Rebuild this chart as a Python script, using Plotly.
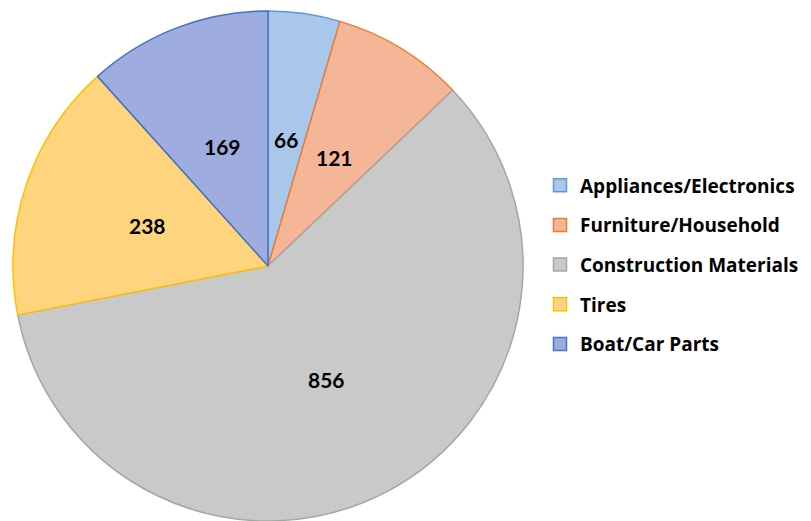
import numpy as np
import plotly.graph_objects as go

categories = ["Appliances/Electronics", "Furniture/Household", "Construction Materials", "Tires", "Boat/Car Parts"]
values = [66, 121, 856, 238, 169]
fill_colors = ["#a9c7ea", "#f5b698", "#c9c9c9", "#ffd47f", "#9eacdf"]
line_colors = ["#5b9bd5", "#ed7d31", "#a5a5a5", "#ffc000", "#4472c4"]

W, H = 811, 521
cx, cy, R = 260, 263, 255  # centre from bottom-left, radius (px)

fig = go.Figure()
fig.add_trace(go.Pie(
    labels=categories,
    values=values,
    sort=False,
    direction="clockwise",
    rotation=0,
    marker=dict(colors=fill_colors, line=dict(color=line_colors, width=1.5)),
    textinfo="none",
    hoverinfo="label+value",
    showlegend=False,
    domain=dict(x=[(cx - R) / W, (cx + R) / W], y=[(cy - R) / H, (cy + R) / H]),
))

# value labels at half radius on each slice's mid-angle
total = sum(values)
start = 0.0
for v in values:
    mid = start + v / total * 360 / 2
    start += v / total * 360
    a = np.radians(mid)
    fig.add_annotation(
        x=(cx + 0.5 * R * np.sin(a)) / W, y=(cy + 0.5 * R * np.cos(a)) / H,
        xref="paper", yref="paper", xanchor="center", yanchor="middle",
        text=f"<b>{v}</b>", showarrow=False,
        font=dict(size=21, color="black", family="Lato"),
    )

# legend entries as dummy traces so the row spacing can be set
for name, fc, lc in zip(categories, fill_colors, line_colors):
    fig.add_trace(go.Scatter(
        x=[None], y=[None], mode="markers", name=name, legendgroup=name,
        marker=dict(symbol="square", size=13, color=fc, line=dict(color=lc, width=1.5)),
    ))

fig.update_layout(
    width=W, height=H,
    margin=dict(l=0, r=0, t=0, b=0),
    paper_bgcolor="white", plot_bgcolor="white",
    xaxis=dict(visible=False), yaxis=dict(visible=False),
    showlegend=True,
    legend=dict(
        x=532 / W, y=0.507, xanchor="left", yanchor="middle",
        font=dict(size=19, color="black", family="Open Sans", weight="bold"),
        tracegroupgap=12, itemwidth=30,
    ),
)

fig.write_html("out.html")
